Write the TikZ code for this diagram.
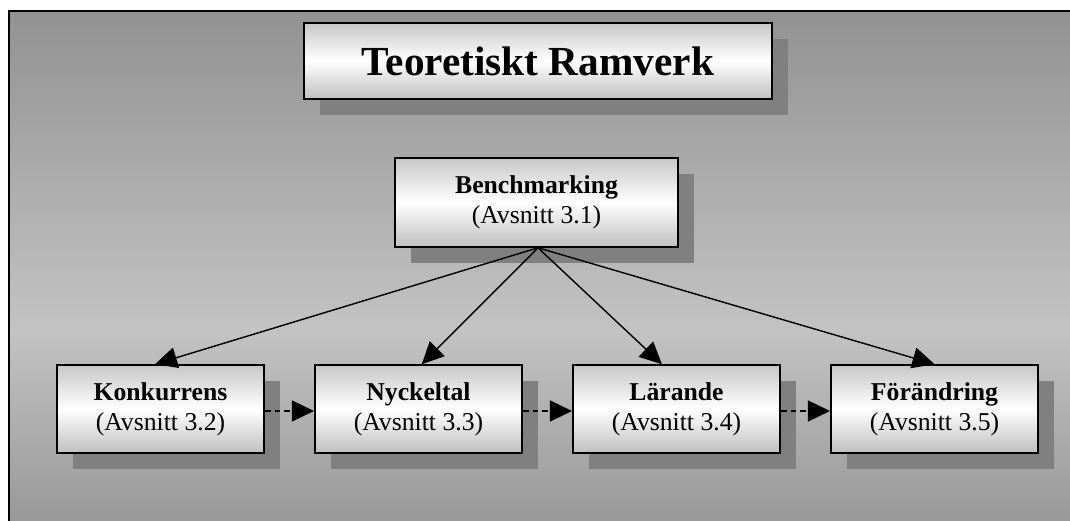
\documentclass[tikz,border=0pt]{standalone}
\usepackage{fontspec}
\setmainfont{Liberation Serif}
\usetikzlibrary{arrows.meta,shadows}
\begin{document}
\begin{tikzpicture}[x=1pt,y=1pt,
  box/.style={draw=black, line width=1.6pt, inner sep=0pt,
    top color=black!22, bottom color=black!25, middle color=white,
    drop shadow={shadow xshift=16pt, shadow yshift=-16pt, fill=black!50, opacity=1},
    align=center},
  lowbox/.style={box, minimum width=207.5pt, minimum height=88pt,
    font=\fontsize{25.7}{30}\selectfont},
  arr/.style={line width=1.4pt, -{Triangle[length=22pt,width=21pt]}},
  darr/.style={line width=1.4pt, dash pattern=on 5.5pt off 4pt, -{Triangle[length=22pt,width=21pt]}}
]
\useasboundingbox (0,0) rectangle (1070,521);
\fill[white] (0,0) rectangle (1070,521);
% background gradient
\shade[top color={rgb,255:red,146;green,146;blue,146}, bottom color={rgb,255:red,195;green,195;blue,195}] (9,190) rectangle (1070,510);
\shade[top color={rgb,255:red,195;green,195;blue,195}, bottom color={rgb,255:red,152;green,152;blue,152}] (9,0) rectangle (1070,190.5);
\draw[line width=1.8pt] (9,-2) -- (9,510) -- (1072,510);

\node[box, minimum width=468pt, minimum height=76pt, font=\fontsize{41.3}{48}\selectfont\bfseries]
  (title) at (538,460) {Teoretiskt Ramverk};
\node[box, minimum width=283pt, minimum height=89pt, font=\fontsize{25.7}{30}\selectfont]
  (bm) at (536.5,318.5) {\textbf{Benchmarking}\\(Avsnitt 3.1)};
\node[lowbox] (k) at (160.5,112) {\textbf{Konkurrens}\\(Avsnitt 3.2)};
\node[lowbox] (n) at (418.5,112) {\textbf{Nyckeltal}\\(Avsnitt 3.3)};
\node[lowbox] (l) at (676.5,112) {\textbf{Lärande}\\(Avsnitt 3.4)};
\node[lowbox] (f) at (934.5,112) {\textbf{Förändring}\\(Avsnitt 3.5)};

\coordinate (hub) at ([xshift=1.5pt]bm.south);
\draw[arr] (hub) -- ([xshift=-5.5pt]k.north);
\draw[arr] (hub) -- ([xshift=3.3pt]n.north);
\draw[arr] (hub) -- ([xshift=-14.6pt]l.north);
\draw[arr] (hub) -- (f.north);

\draw[darr] ([yshift=-2pt]k.east) -- ([yshift=-2pt]n.west);
\draw[darr] ([yshift=-2pt]n.east) -- ([yshift=-2pt]l.west);
\draw[darr] ([yshift=-2pt]l.east) -- ([yshift=-2pt]f.west);
\end{tikzpicture}
\end{document}
